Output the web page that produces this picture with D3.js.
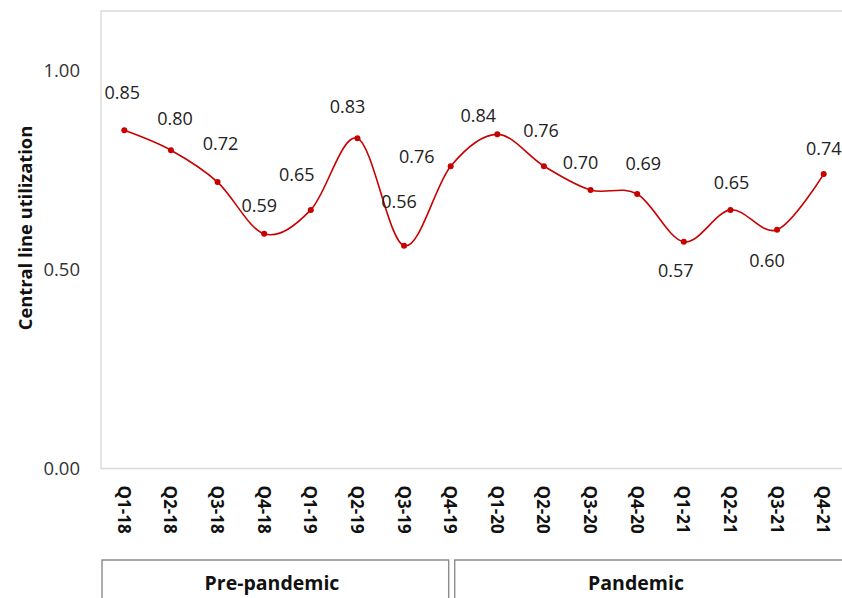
<!DOCTYPE html>
<html><head><meta charset="utf-8">
<script src="https://cdn.jsdelivr.net/npm/d3@7"></script>
<style>body{margin:0;background:#fff}svg{display:block}</style>
</head><body>
<script>
const quarters = ["Q1-18","Q2-18","Q3-18","Q4-18","Q1-19","Q2-19","Q3-19","Q4-19","Q1-20","Q2-20","Q3-20","Q4-20","Q1-21","Q2-21","Q3-21","Q4-21"];
const utilization = [0.85,0.80,0.72,0.59,0.65,0.83,0.56,0.76,0.84,0.76,0.70,0.69,0.57,0.65,0.60,0.74];
const yTicks = [0.00,0.50,1.00];
const periods = ["Pre-pandemic","Pandemic"];
// label layout offsets (px) relative to each point
const labelDx = [-2,4,3,-5,-14,-10,-5,-34,-19,-3,-10,6,-8,1,-10,0];
const labelDy = [-38,-32,-38,-28,-35,-32,-44,-9,-19,-35,-27,-30,29,-27,31,-25];

const W=842,H=598;
const m={left:101,top:11,right:-5,bottom:130};
const svg=d3.select("body").append("svg").attr("width",W).attr("height",H);
const font="'Open Sans', 'Liberation Sans', sans-serif";

const x=d3.scaleBand().domain(quarters).range([m.left,W-m.right]).padding(0);
const y=d3.scaleLinear().domain([0,1.15]).range([H-m.bottom+0.5, m.top]);
const y0=y(0);
const cx=i=>x(quarters[i])+x.bandwidth()/2;

// plot frame
svg.append("path").attr("d",`M${W},${m.top}H${m.left}V${y0}H${W}`)
  .attr("fill","none").attr("stroke","#d9d9d9").attr("stroke-width",1.3);

// y axis
const yAxis=d3.axisLeft(y).tickValues(yTicks).tickFormat(d3.format(".2f")).tickSize(0).tickPadding(21);
const ga=svg.append("g").attr("transform",`translate(${m.left},0)`).call(yAxis);
ga.select(".domain").remove();
ga.selectAll("text").attr("font-family",font).attr("font-size",18.5).attr("fill","#333");

svg.append("text").attr("transform",`translate(32,228) rotate(-90)`)
  .attr("text-anchor","middle").attr("font-family",font).attr("font-weight","bold")
  .attr("font-size",18.3).attr("fill","#111").text("Central line utilization");

// x labels
const xAxis=d3.axisBottom(x).tickSize(0).tickPadding(0);
const gx=svg.append("g").attr("transform",`translate(0,${y0})`).call(xAxis);
gx.select(".domain").remove();
gx.selectAll("text").attr("font-family",font).attr("font-size",17).attr("font-weight","bold").attr("fill","#111")
  .attr("text-anchor","start").attr("dy",null).attr("y",0)
  .attr("transform","translate(-6.5,17) rotate(90)");

// line
const line=d3.line().x((d,i)=>cx(i)).y(d=>y(d)).curve(d3.curveCardinal.tension(0));
svg.append("path").datum(utilization).attr("d",line).attr("fill","none").attr("stroke","#C80000").attr("stroke-width",1.6);
svg.selectAll("circle.pt").data(utilization).join("circle").attr("class","pt")
  .attr("cx",(d,i)=>cx(i)).attr("cy",d=>y(d)).attr("r",3).attr("fill","#C80000");
svg.selectAll("text.lbl").data(utilization).join("text").attr("class","lbl")
  .attr("x",(d,i)=>cx(i)+labelDx[i]).attr("y",(d,i)=>y(d)+labelDy[i])
  .attr("dy","0.35em").attr("text-anchor","middle").attr("font-family",font).attr("font-size",18).attr("fill","#222")
  .text(d=>d3.format(".2f")(d));

// period brackets (split at the Q4-19 category centre)
const boxTop=560, split=cx(7);
const boxes=[[m.left+1, split-2],[split+4, W+5]];
const textX=[272, 636];
periods.forEach((p,k)=>{
  const [x0,x1]=boxes[k];
  svg.append("path").attr("d",`M${x0},${H+2}V${boxTop}H${x1}V${H+2}`).attr("fill","none").attr("stroke","#8c8c8c").attr("stroke-width",1.4);
  svg.append("text").attr("x",textX[k]).attr("y",590).attr("text-anchor","middle")
    .attr("font-family",font).attr("font-weight","bold").attr("font-size",19.5).attr("fill","#111").text(p);
});
</script>
</body></html>
